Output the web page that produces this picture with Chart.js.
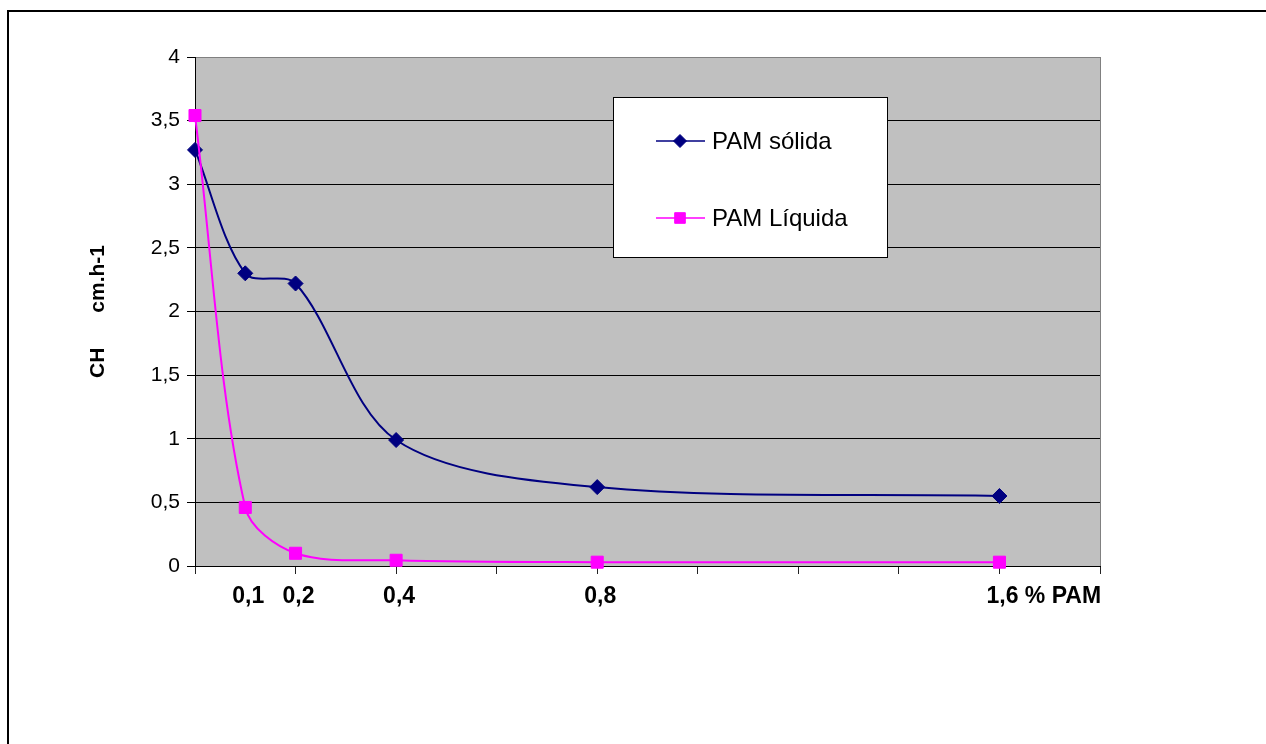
<!DOCTYPE html>
<html>
<head>
<meta charset="utf-8">
<script src="https://cdn.jsdelivr.net/npm/chart.js@4.4.0/dist/chart.umd.min.js"></script>
<style>
  html, body { margin: 0; padding: 0; background: #ffffff; }
  #wrap { width: 1266px; height: 744px; position: relative; }
</style>
</head>
<body>
<div id="wrap"><canvas id="c" width="1266" height="744"></canvas></div>
<script>
// ---- data ----
const concentrations = [0, 0.1, 0.2, 0.4, 0.8, 1.6];
const pamSolida = [3.27, 2.30, 2.22, 0.99, 0.62, 0.55];
const pamLiquida = [3.54, 0.46, 0.10, 0.045, 0.03, 0.03];
const seriesNames = ['PAM sólida', 'PAM Líquida'];
const xLabelValues = [0.1, 0.2, 0.4, 0.8, 1.6];
const xLabelTexts = ['0,1', '0,2', '0,4', '0,8', '1,6'];
const xAxisUnit = ' % PAM';
const yTitle = 'CH      cm.h-1';

const FONT = "'Liberation Sans', Arial, sans-serif";

const frame = {
  id: 'frame',
  beforeDraw(chart) {
    const ctx = chart.ctx;
    const a = chart.chartArea;
    ctx.save();
    ctx.fillStyle = '#ffffff';
    ctx.fillRect(0, 0, chart.width, chart.height);
    ctx.fillStyle = '#c0c0c0';
    ctx.fillRect(a.left, a.top, a.right - a.left, a.bottom - a.top);
    // outer chart frame (top and left edges visible)
    ctx.strokeStyle = '#000000';
    ctx.lineWidth = 2;
    ctx.beginPath();
    ctx.moveTo(8, chart.height);
    ctx.lineTo(8, 11);
    ctx.lineTo(chart.width, 11);
    ctx.stroke();
    ctx.restore();
  },
  beforeDatasetsDraw(chart) {
    const ctx = chart.ctx;
    const a = chart.chartArea;
    ctx.save();
    ctx.strokeStyle = '#808080';
    ctx.lineWidth = 1;
    ctx.beginPath();
    ctx.moveTo(Math.round(a.right) + 0.5, a.top);
    ctx.lineTo(Math.round(a.right) + 0.5, a.bottom);
    ctx.stroke();
    ctx.restore();
  },
  afterDraw(chart) {
    const ctx = chart.ctx;
    const xs = chart.scales.x;
    ctx.save();
    // x labels
    ctx.fillStyle = '#000';
    ctx.font = 'bold 23px ' + FONT;
    ctx.textBaseline = 'middle';
    xLabelValues.forEach((v, i) => {
      const px = xs.getPixelForValue(v) + 3;
      const t = xLabelTexts[i];
      const w = ctx.measureText(t).width;
      ctx.textAlign = 'left';
      const full = (i === xLabelValues.length - 1) ? t + xAxisUnit : t;
      ctx.fillText(full, px - w / 2, 597);
    });
    // legend
    const bx = 613, by = 97, bw = 274, bh = 160;
    ctx.fillStyle = '#ffffff';
    ctx.fillRect(bx, by, bw, bh);
    ctx.strokeStyle = '#000';
    ctx.lineWidth = 1;
    ctx.strokeRect(bx + 0.5, by + 0.5, bw, bh);
    chart.data.datasets.forEach((ds, i) => {
      const y = 141 + i * 77;
      ctx.strokeStyle = ds.borderColor;
      ctx.lineWidth = 1.5;
      ctx.beginPath();
      ctx.moveTo(656, y);
      ctx.lineTo(705, y);
      ctx.stroke();
      ctx.fillStyle = ds.backgroundColor;
      ctx.strokeStyle = ds.borderColor;
      ctx.lineWidth = 1;
      Chart.helpers.drawPoint(ctx, { pointStyle: ds.pointStyle, radius: ds.pointRadius - 1, rotation: 0, borderWidth: 1 }, 680, y);
      ctx.fillStyle = '#000';
      ctx.font = '24px ' + FONT;
      ctx.textAlign = 'left';
      ctx.textBaseline = 'middle';
      ctx.fillText(ds.label, 712, y + 1);
    });
    ctx.restore();
  }
};

new Chart(document.getElementById('c'), {
  type: 'scatter',
  data: {
    datasets: [
      {
        label: seriesNames[0],
        data: concentrations.map((x, i) => ({ x: x, y: pamSolida[i] })),
        borderColor: '#000080',
        backgroundColor: '#000080',
        pointStyle: 'rectRot',
        pointRadius: 7.5,
        pointBorderWidth: 1,
        borderWidth: 2,
        showLine: true,
        tension: 0.32,
        clip: false,
        order: 1
      },
      {
        label: seriesNames[1],
        data: concentrations.map((x, i) => ({ x: x, y: pamLiquida[i] })),
        borderColor: '#ff00ff',
        backgroundColor: '#ff00ff',
        pointStyle: 'rect',
        pointRadius: 8.5,
        pointBorderWidth: 1,
        borderWidth: 2,
        showLine: true,
        tension: 0.32,
        clip: false,
        order: 0
      }
    ]
  },
  options: {
    responsive: false,
    animation: false,
    events: [],
    layout: { padding: { left: 86, top: 57, right: 166, bottom: 0 } },
    plugins: { legend: { display: false }, tooltip: { enabled: false } },
    scales: {
      x: {
        type: 'linear',
        min: 0,
        max: 1.8,
        position: 'bottom',
        ticks: { display: false, stepSize: 0.2 },
        grid: { drawOnChartArea: false, drawTicks: true, tickLength: 8, tickColor: '#222', color: '#222' },
        border: { color: '#000', width: 1 },
        afterFit: s => { s.height = 744 - 566; }
      },
      y: {
        min: 0,
        max: 4,
        ticks: {
          stepSize: 0.5,
          padding: 7,
          color: '#000',
          font: { family: FONT, size: 21 },
          callback: v => String(v).replace('.', ',')
        },
        grid: {
          color: ctx => (ctx.tick && ctx.tick.value === 4) ? '#808080' : '#000',
          tickColor: '#000',
          tickLength: 8,
          lineWidth: 1
        },
        border: { color: '#000', width: 1 },
        title: {
          display: true,
          text: yTitle,
          color: '#000',
          font: { family: FONT, size: 21, weight: 'bold' },
          padding: { top: 0, bottom: 0 }
        },
        afterFit: s => { s.width = 195 - 86; }
      }
    }
  },
  plugins: [frame]
});
</script>
</body>
</html>
